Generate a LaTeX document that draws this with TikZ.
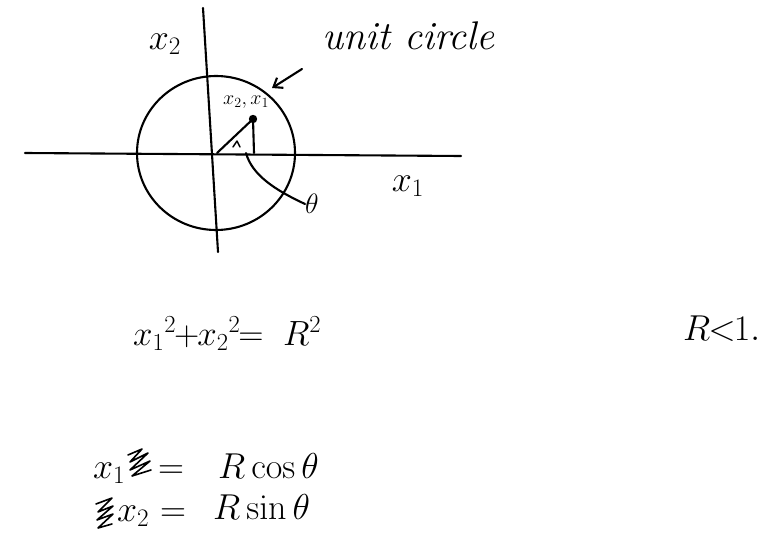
\RequirePackage{fix-cm}
\documentclass[tikz,border=0pt]{standalone}
\usepackage{amsmath}
\usetikzlibrary{arrows.meta}
\begin{document}
\begin{tikzpicture}[x=1pt,y=-1pt,
  pen/.style={line width=2.1pt,line cap=round,line join=round,black},
  lbl/.style={inner sep=0pt,text=black},
  big/.style={lbl,anchor=base west,font=\fontsize{36}{38}\selectfont},
  eqn/.style={lbl,anchor=base west,font=\fontsize{35}{37}\selectfont},
  mid/.style={lbl,font=\fontsize{36}{38}\selectfont}]
\useasboundingbox[fill=white] (0,0) rectangle (767,556);
% axes
\coordinate (hl) at (25,153);
\coordinate (hr) at (461,156);
\coordinate (vt) at (203,8);
\coordinate (vb) at (218,252);
\coordinate (o) at (217,153);
\draw[pen] (hl) -- (hr);
\draw[pen] (vt) -- (vb);
% circle
\draw[pen] (216,153) ellipse [x radius=79, y radius=77];
% point and triangle
\coordinate (p) at (253,119);
\coordinate (f) at (254,153);
\fill (p) circle (4.2);
\draw[pen] (o) -- (p) -- (f);
% angle mark
\draw[pen,line width=1.5pt] (233,147) -- (237,141) -- (240,147);
% theta pointer
\coordinate (ts) at (246,153);
\node[lbl,font=\fontsize{28}{30}\selectfont] (theta) at (312,204) {$\theta$};
\draw[pen] (ts) .. controls (252,175) and (275,190) .. (theta.west);
% labels
\node[lbl,font=\fontsize{20}{22}\selectfont] (pt) at (246,102) {$x_2,x_1$};
\node[mid] (x2) at (165,44) {$x_2$};
\node[mid] (x1) at (408,186) {$x_1$};
\node[lbl,font=\fontsize{40}{42}\selectfont,anchor=base west] (uc) at (322,50) {\itshape unit circle};
\coordinate (at) at (302,69);
\coordinate (ah) at (272,88);
\draw[pen,-{Straight Barb[length=8pt,width=12pt]}] (at) -- (ah);
% equation x1^2+x2^2=R^2
\node[eqn] (e1) at (133,345) {$\medmuskip=0mu\thickmuskip=0mu {x_1}^{2}\mkern-1mu+\mkern-1mu{x_2}^{2}\mkern-1mu=\mkern10mu R^{2}$};
% R<1.
\node[big] (e2) at (683,340) {$R\mkern-1mu{<}\mkern-1mu1.$};
% x1 = R cos theta
\node[big] (e3a) at (93,478) {$x_1$};
\node[big] (e3b) at (158,478) {$=$};
\node[big] (e3c) at (218,478) {$R\cos\theta$};
% x2 = R sin theta
\node[big] (e4a) at (117,521) {$x_2$};
\node[big] (e4b) at (160,521) {$=$};
\node[big] (e4c) at (213,519) {$R\sin\theta$};
% scribbles (crossed-out letters)
\draw[pen,line width=1.6pt] (128,455) -- (142,449) -- (130,462) -- (148,453) -- (130,470) -- (150,461) -- (132,476) -- (151,470);
\draw[pen,line width=1.6pt] (96,504) -- (112,498) -- (98,512) -- (113,506) -- (97,520) -- (113,514) -- (98,528) -- (112,524);
\end{tikzpicture}
\end{document}
